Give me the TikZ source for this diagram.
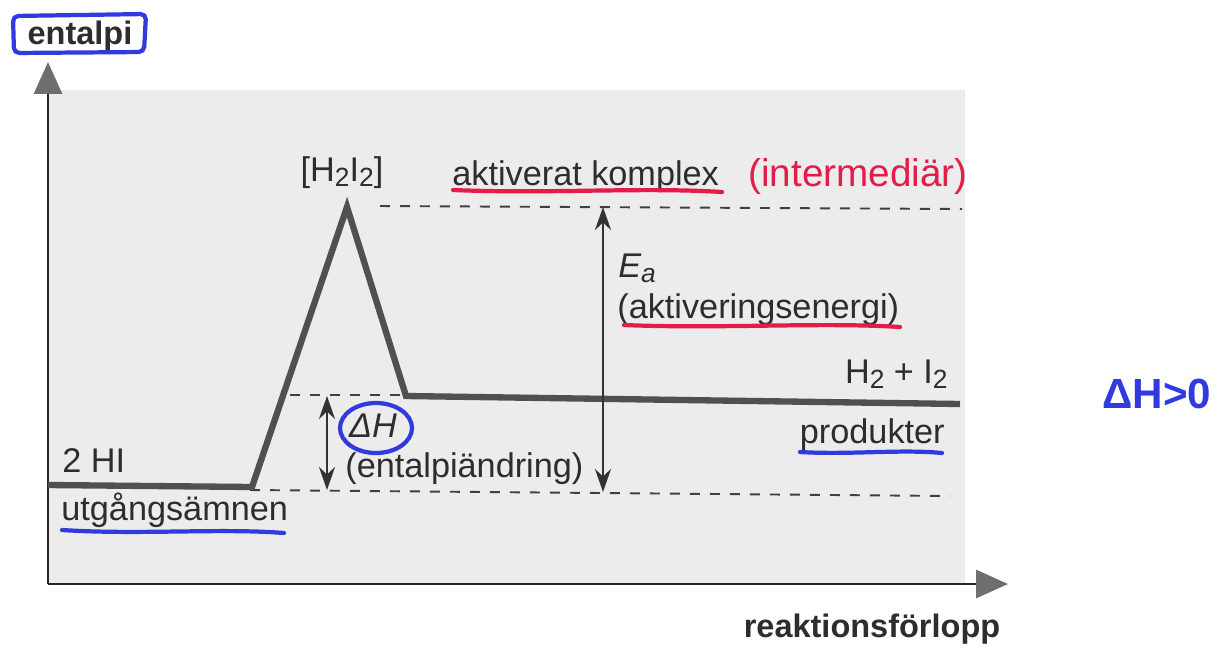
\documentclass[tikz,border=0pt]{standalone}
\usepackage{fontspec}
\setmainfont{Liberation Sans}
\usetikzlibrary{arrows.meta}
\definecolor{curvecol}{RGB}{80,80,80}
\definecolor{penred}{RGB}{228,28,72}
\definecolor{penblue}{RGB}{48,58,222}
\definecolor{bgcol}{RGB}{236,236,236}
\definecolor{txtcol}{RGB}{45,45,45}
\definecolor{tipcol}{RGB}{110,110,110}
\newcommand{\mysub}[1]{\raisebox{-0.32ex}{\fontsize{15}{16}\selectfont #1}}
\begin{document}
\begin{tikzpicture}[x=0.02cm,y=-0.02cm,
  lbl/.style={font=\fontsize{19.5}{22}\selectfont, inner sep=0pt, text=txtcol},
  bold lbl/.style={font=\fontsize{18.5}{21}\selectfont\bfseries, inner sep=0pt, text=txtcol},
  axis/.style={line width=1.6pt, draw=black!85, -{Triangle[length=0.64cm,width=0.56cm,color=tipcol,fill=tipcol]}},
  profile/.style={line width=3.6pt, draw=curvecol, line join=miter},
  guide/.style={line width=1.1pt, draw=black!75, dash pattern=on 0.2cm off 0.2cm},
  gap/.style={line width=1.4pt, draw=black!80, {Stealth[length=0.46cm,width=0.32cm]}-{Stealth[length=0.46cm,width=0.32cm]}},
  redpen/.style={draw=penred, line width=2.4pt, line cap=round},
  bluepen/.style={draw=penblue, line width=2.4pt, line cap=round},
  handred/.style={font=\fontsize{22}{24}\selectfont, inner sep=0pt, text=penred},
  handblue/.style={font=\fontsize{24}{26}\selectfont\bfseries, inner sep=0pt, text=penblue}]
\useasboundingbox (0,0) rectangle (1221,650);
\fill[white] (0,0) rectangle (1221,650);
% shaded panel
\fill[bgcol] (48,90) rectangle (965,584);
% axes
\coordinate (origin) at (48,584);
\coordinate (ytip) at (48,62);
\coordinate (xtip) at (1008,584);
\draw[axis] (origin) -- (ytip);
\draw[axis] (origin) -- (xtip);
% axis labels
\node[bold lbl, anchor=base] (entalpi) at (80,44) {entalpi};
\node[bold lbl, anchor=base] (forlopp) at (872,637) {reaktionsförlopp};
\draw[bluepen, rounded corners=3pt] (13,16) -- (146,14) -- (144,52) -- (14,53) -- cycle;
% guide lines
\coordinate (topL) at (380,206);
\coordinate (topR) at (962,209);
\coordinate (midL) at (290,395);
\coordinate (midR) at (410,395);
\coordinate (botL) at (250,490);
\coordinate (botR) at (950,496);
\draw[guide] (topL) -- (topR);
\draw[guide] (midL) -- (midR);
\draw[guide] (botL) -- (botR);
% energy profile
\coordinate (p0) at (48,485);
\coordinate (p1) at (252,487);
\coordinate (peak) at (347,207);
\coordinate (p3) at (406,396);
\coordinate (p4) at (960,404);
\draw[profile] (p0) -- (p1) -- (peak) -- (p3) -- (p4);
% gap arrows
\coordinate (eaT) at (603,207);
\coordinate (eaB) at (603,492);
\coordinate (dhT) at (327,396);
\coordinate (dhB) at (327,490);
\draw[gap] (eaT) -- (eaB);
\draw[gap] (dhT) -- (dhB);
% labels
\node[lbl, anchor=base] (cplx) at (342,181) {[H\mysub{2}I\mysub{2}]};
\node[lbl, anchor=base west] (akt) at (452,185) {aktiverat komplex};
\node[lbl, anchor=base west] (ea) at (618,277) {\itshape E\mysub{a}};
\node[lbl, anchor=base west] (aktiv) at (617,318) {(aktiveringsenergi)};
\node[lbl, anchor=base east] (prod) at (948,383) {H\mysub{2} + I\mysub{2}};
\node[lbl, anchor=base east] (produkter) at (945,443) {produkter};
\node[lbl, anchor=base] (dh) at (373,437) {\itshape ΔH};
\node[lbl, anchor=base west] (andr) at (345,477) {(entalpiändring)};
\node[lbl, anchor=base west] (hi) at (62,472) {2 HI};
\node[lbl, anchor=base west] (utg) at (61,520) {utgångsämnen};
% handwritten annotations
\node[handred, anchor=base west] (inter) at (748,186) {(intermediär)};
\node[handblue, anchor=base west] (dhpos) at (1102,408) {ΔH>0};
\draw[redpen] (453,190) .. controls (550,194) and (640,187) .. (722,192);
\draw[redpen] (624,325) .. controls (720,329) and (820,322) .. (900,327);
\draw[bluepen] (800,452) .. controls (850,455) and (900,449) .. (942,453);
\draw[bluepen] (62,530) .. controls (140,535) and (220,528) .. (284,533);
\draw[bluepen] (dh.base) ++(3,-9) ellipse [x radius=0.72cm, y radius=0.5cm];
\end{tikzpicture}
\end{document}
